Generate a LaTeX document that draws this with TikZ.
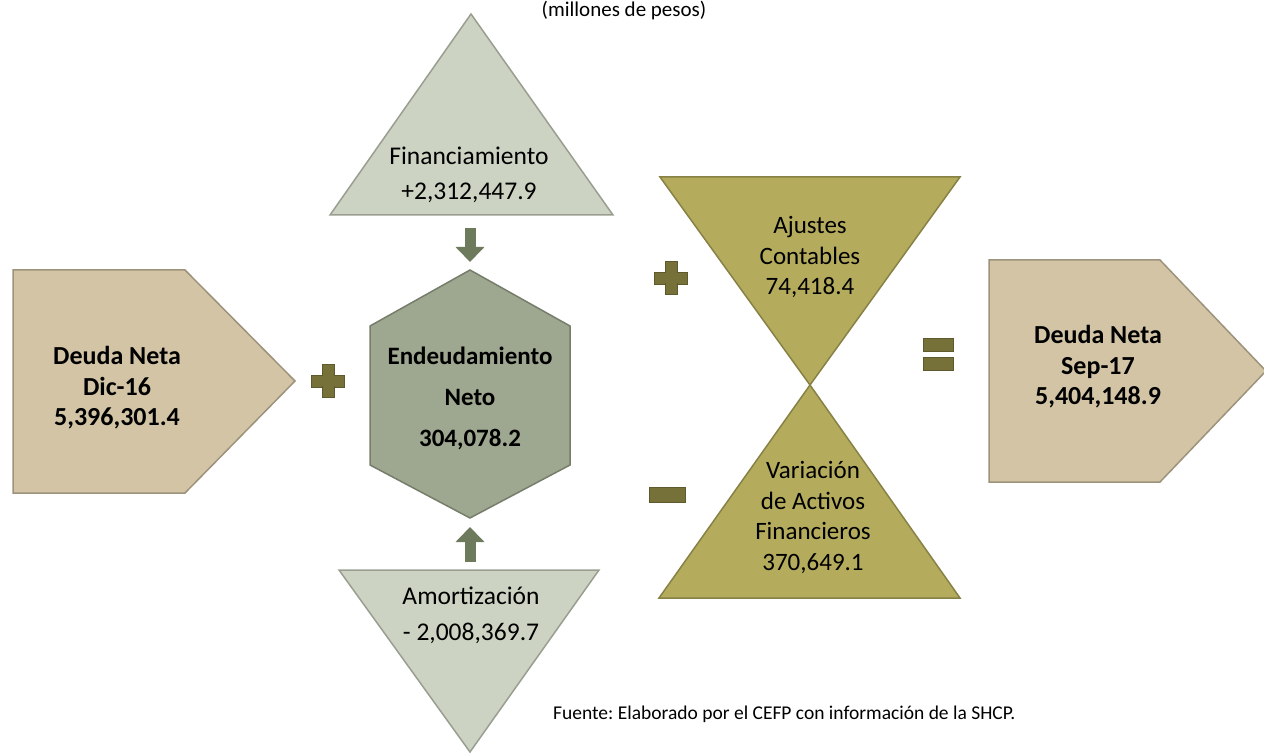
\documentclass[tikz,border=0pt]{standalone}
\usepackage{fontspec}
\setmainfont{Carlito}
\frenchspacing
\usetikzlibrary{arrows.meta}

\definecolor{tanbox}{HTML}{D2C4A5}
\definecolor{palegreen}{HTML}{CCD3C2}
\definecolor{hexgreen}{HTML}{9EA78F}
\definecolor{olivebox}{HTML}{B4AC5C}
\definecolor{signcol}{HTML}{767039}
\definecolor{arrowcol}{HTML}{6D7A5B}

\tikzset{
    shape edge/.style={draw=#1!75!black, fill=#1, line width=1.5pt, line join=miter},
    boxtext/.style={align=center, inner sep=0pt, text=black,
        font=\fontsize{25}{30.5}\selectfont},
    signbar/.style={fill=signcol, draw=signcol!80!black, line width=0.6pt},
    blockarrow/.style={draw=arrowcol, line width=11pt,
        -{Triangle[length=15pt,width=28pt]}, arrowcol},
    smalltext/.style={inner sep=0pt, font=\fontsize{19.5}{22}\selectfont}
}

\begin{document}
\begin{tikzpicture}[x=1pt,y=-1pt]
    \useasboundingbox (0,0) rectangle (1264,754);
    \pgfmathsetmacro{\signthick}{12}
    \pgfmathsetmacro{\signhalf}{16.5}

    % titulo y fuente
    \node[smalltext, anchor=base, font=\fontsize{21}{24}\selectfont] (titulo) at (624,17) {(millones de pesos)};
    \node[smalltext, anchor=base west] (fuente) at (553,719)
        {Fuente: Elaborado por el CEFP con información de la SHCP.};

    % deuda inicial y final
    \draw[shape edge=tanbox] (13,270) -- (185,270) -- (295,381) -- (185,493) -- (13,493) -- cycle;
    \node[boxtext, font=\bfseries\fontsize{26}{30.5}\selectfont] (dic) at (117,388)
        {Deuda Neta\\Dic-16\\5,396,301.4};
    \draw[shape edge=tanbox] (989,260) -- (1160,260) -- (1266,371) -- (1160,482) -- (989,482) -- cycle;
    \node[boxtext, font=\bfseries\fontsize{26}{30.5}\selectfont] (sep) at (1098,367)
        {Deuda Neta\\Sep-17\\5,404,148.9};

    % financiamiento, endeudamiento, amortizacion
    \draw[shape edge=palegreen] (471,14) -- (613,215) -- (330,215) -- cycle;
    \node[boxtext, font=\fontsize{25.5}{35}\selectfont] (fin) at (469,174.5)
        {Financiamiento\\+2,312,447.9};
    \coordinate (finbase) at (470,228);

    \draw[shape edge=hexgreen] (470,270) -- (570,326) -- (570,465) -- (470,518)
        -- (370,465) -- (370,326) -- cycle;
    \node[boxtext, font=\bfseries\fontsize{25}{41}\selectfont] (neto) at (470,398)
        {Endeudamiento\\Neto\\304,078.2};
    \coordinate (hextop) at (470,262);
    \coordinate (hexbot) at (470,527);

    \draw[shape edge=palegreen] (339,570) -- (599,570) -- (470,752) -- cycle;
    \node[boxtext, font=\fontsize{25.5}{36}\selectfont] (amort) at (471,615)
        {Amortización\\- 2,008,369.7};
    \coordinate (amortbase) at (470,562);

    \draw[blockarrow] (finbase) -- (hextop);
    \draw[blockarrow] (amortbase) -- (hexbot);

    % ajustes y activos
    \draw[shape edge=olivebox] (660,177) -- (960,177) -- (810,385) -- cycle;
    \node[boxtext] (ajustes) at (810,257) {Ajustes\\Contables\\74,418.4};
    \draw[shape edge=olivebox] (810,385) -- (960,598) -- (659,598) -- cycle;
    \node[boxtext] (activos) at (813,517.5) {Variación\\de Activos\\Financieros\\370,649.1};

    % signos
    \foreach \cx/\cy in {328/381, 671/278} {
        \fill[signbar] (\cx-\signhalf,\cy-\signthick/2) rectangle (\cx+\signhalf,\cy+\signthick/2);
        \fill[signbar] (\cx-\signthick/2,\cy-\signhalf) rectangle (\cx+\signthick/2,\cy+\signhalf);
        \fill[signcol] (\cx-\signhalf+0.6,\cy-\signthick/2+0.6) rectangle (\cx+\signhalf-0.6,\cy+\signthick/2-0.6);
    }
    \fill[signbar] (649,487) rectangle (685,502);
    \fill[signbar] (923,338) rectangle (953,351);
    \fill[signbar] (923,357) rectangle (953,370);
\end{tikzpicture}
\end{document}
